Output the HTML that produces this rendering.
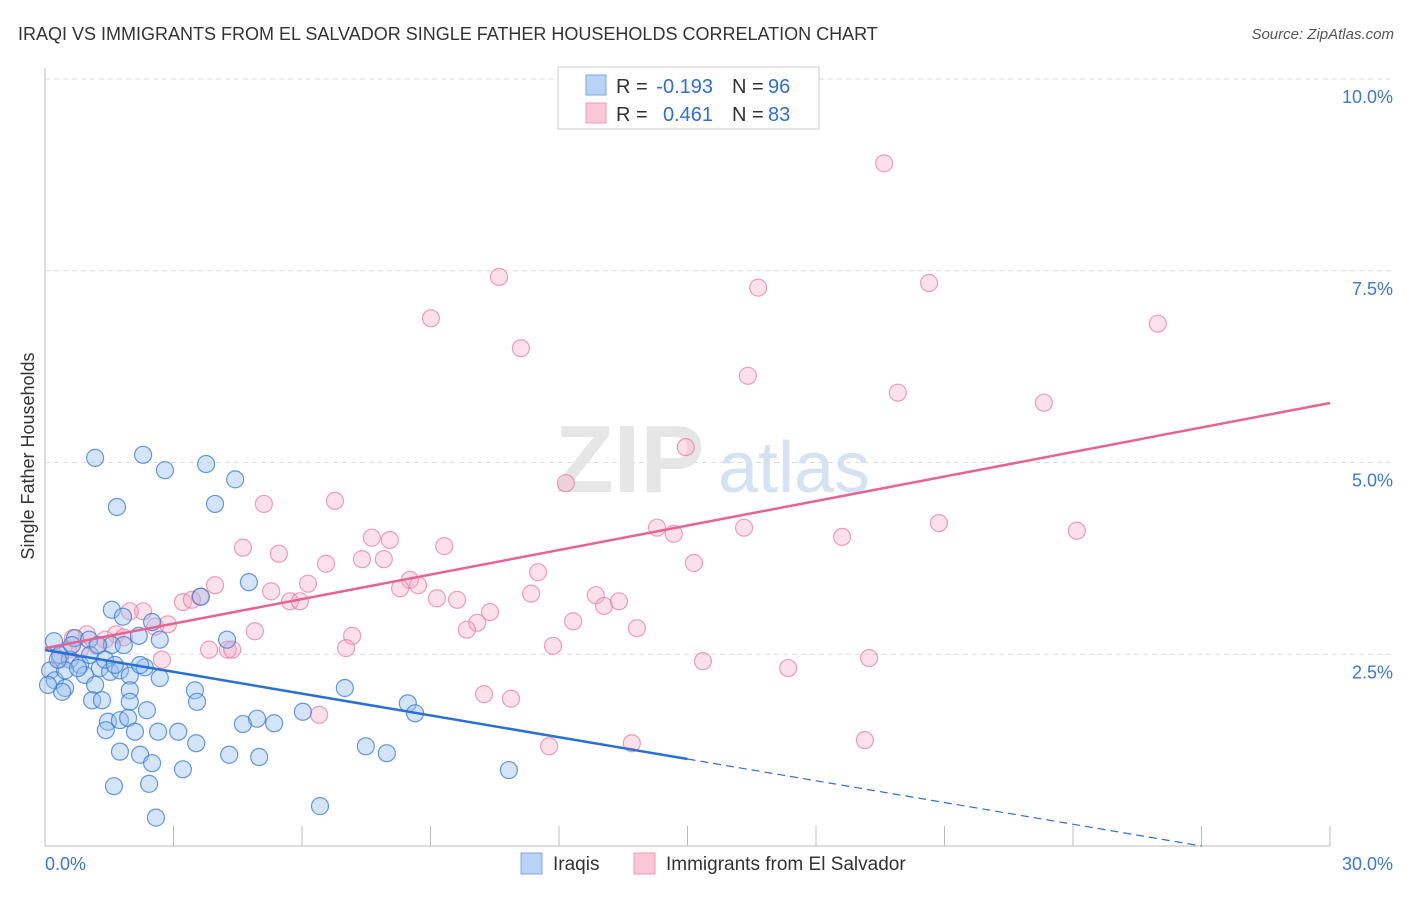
<!DOCTYPE html>
<html><head><meta charset="utf-8"><style>
body{margin:0;background:#fff;font-family:"Liberation Sans",sans-serif;}
svg text{font-family:"Liberation Sans",sans-serif;}
</style></head><body>
<svg id="chart" width="1406" height="892">
<text x="18" y="40" font-size="18" fill="#333">IRAQI VS IMMIGRANTS FROM EL SALVADOR SINGLE FATHER HOUSEHOLDS CORRELATION CHART</text>
<text x="1394" y="39" font-size="15" fill="#555" font-style="italic" text-anchor="end">Source: ZipAtlas.com</text>
<g id="grid"></g>
<text x="555" y="492" font-size="96" font-family="Liberation Serif" fill="#e6e6e6" font-weight="bold">ZIP</text>
<text x="718" y="492" font-size="72" fill="#d4e2f4">atlas</text>
<g id="marks"></g>
<text transform="translate(34,456) rotate(-90)" font-size="18" fill="#333" text-anchor="middle">Single Father Households</text>
<g>
<rect x="558" y="67" width="261" height="62" fill="#fff" stroke="#ccc"/>
<rect x="586" y="75" width="20" height="20" fill="#b8d3f5" stroke="#7aa7e6"/>
<rect x="586" y="103" width="20" height="20" fill="#f9c7d6" stroke="#ef99b3"/>
<text x="616" y="93" font-size="20" fill="#333">R =</text>
<text x="713" y="93" font-size="20" fill="#2d6fd6" text-anchor="end">-0.193</text>
<text x="732" y="93" font-size="20" fill="#333">N =</text>
<text x="768" y="93" font-size="20" fill="#2d6fd6">96</text>
<text x="616" y="121" font-size="20" fill="#333">R =</text>
<text x="713" y="121" font-size="20" fill="#2d6fd6" text-anchor="end">0.461</text>
<text x="732" y="121" font-size="20" fill="#333">N =</text>
<text x="768" y="121" font-size="20" fill="#2d6fd6">83</text>
</g>
<g>
<rect x="521" y="853" width="21" height="21" fill="#b8d3f5" stroke="#7aa7e6"/>
<text x="553" y="870" font-size="19" fill="#333">Iraqis</text>
<rect x="634" y="853" width="21" height="21" fill="#f9c7d6" stroke="#ef99b3"/>
<text x="666" y="870" font-size="19" fill="#333">Immigrants from El Salvador</text>
</g>
</svg>
<script>
const xTicks=[0,3,6,9,12,15,18,21,24,27,30];
const yTicks=[2.5,5,7.5,10];
const yTickLabels=["2.5%","5.0%","7.5%","10.0%"];
const bluePx=[[95,458],[143,455],[165,470],[206,464],[235,479],[117,507],[215,504],[249,582],[201,597],[112,610],[152,622],[139,636],[123,617],[54,641],[75,638],[89,640],[60,655],[70,660],[80,665],[90,655],[100,668],[110,672],[120,670],[130,676],[145,667],[160,678],[50,670],[55,680],[65,688],[62,692],[85,675],[95,685],[130,690],[195,690],[345,688],[227,640],[112,645],[124,645],[140,665],[92,700],[102,700],[130,702],[147,710],[197,702],[408,703],[415,713],[303,712],[108,722],[120,720],[128,718],[106,730],[135,732],[178,732],[158,732],[243,724],[257,719],[274,723],[196,743],[120,752],[140,755],[152,763],[183,769],[229,755],[259,757],[366,746],[387,753],[509,770],[114,786],[149,784],[320,806],[156,818],[65,670],[78,668],[48,685],[58,660],[72,645],[98,645],[105,660],[115,665],[160,640]];
const pinkPx=[[884,163],[499,277],[758,288],[929,283],[431,318],[521,348],[1158,324],[748,376],[898,393],[1044,403],[686,447],[566,483],[335,501],[264,504],[243,548],[279,554],[326,564],[362,559],[372,538],[390,540],[384,559],[444,546],[657,528],[674,534],[744,528],[842,537],[939,523],[1077,531],[694,563],[538,572],[410,580],[418,585],[400,588],[308,584],[271,591],[215,585],[200,597],[183,602],[192,600],[290,601],[300,601],[437,598],[457,600],[490,612],[531,594],[596,595],[604,606],[619,601],[573,621],[477,623],[467,630],[143,611],[130,611],[155,627],[168,624],[255,631],[352,636],[116,634],[124,637],[105,640],[87,634],[73,638],[97,646],[68,650],[209,650],[228,650],[232,650],[346,648],[553,646],[637,628],[703,661],[788,668],[869,658],[162,660],[484,694],[511,699],[319,715],[549,746],[632,743],[865,740],[60,660],[80,650]];
const blueX=bluePx.map(p=>+((p[0]-45)/1285*30).toFixed(2));
const blueY=bluePx.map(p=>+((846-p[1])/767*10).toFixed(2));
const pinkX=pinkPx.map(p=>+((p[0]-45)/1285*30).toFixed(2));
const pinkY=pinkPx.map(p=>+((846-p[1])/767*10).toFixed(2));
const blueTrend=[[0,2.555],[15,1.134],[27,0]];
const pinkTrend=[[0,2.58],[30,5.776]];
const X=v=>45+v/30*1285, Y=v=>846-v/10*767;
const NS="http://www.w3.org/2000/svg";
function mk(t,a,p){const e=document.createElementNS(NS,t);for(const k in a)e.setAttribute(k,a[k]);p.appendChild(e);return e;}
const g=document.getElementById('grid'),m=document.getElementById('marks');
const ax=mk('line',{x1:45,y1:68,x2:45,y2:846,stroke:'#bbb'},g);


const bx=mk('line',{x1:45,y1:846,x2:1330,y2:846,stroke:'#bbb'},g);


yTicks.forEach((v,i)=>{
 const l=mk('line',{x1:45,x2:1395,y1:Y(v),y2:Y(v),stroke:'#ddd','stroke-dasharray':'5,4'},g);
 
 
 const t=mk('text',{x:1393,y:Y(v)+24,'font-size':18,fill:'#3a78d4','text-anchor':'end'},g);
 t.textContent=yTickLabels[i];
 
 
});
xTicks.forEach(v=>{
 const l=mk('line',{x1:X(v),x2:X(v),y1:826,y2:846,stroke:'#bbb'},g);
 
 
});
[[0,'0.0%','start',45],[30,'30.0%','end',1393]].forEach(a=>{
 const t=mk('text',{x:a[3],y:870,'font-size':18,fill:'#3a78d4','text-anchor':a[2]},g);
 t.textContent=a[1];
 
 
});
function pts(xs,ys,fill,stroke,name){xs.forEach((x,i)=>{
 const c=mk('circle',{cx:X(x),cy:Y(ys[i]),r:8.5,fill:fill,stroke:stroke,'stroke-width':1.2},m);
 
 
});}
pts(pinkX,pinkY,'rgba(246,170,195,0.35)','rgba(232,120,155,0.7)','el-salvador-point');
pts(blueX,blueY,'rgba(150,190,240,0.4)','rgba(50,120,215,0.75)','iraqi-point');
const b1=mk('line',{x1:X(blueTrend[0][0]),y1:Y(blueTrend[0][1]),x2:X(blueTrend[1][0]),y2:Y(blueTrend[1][1]),stroke:'#2a6fd8','stroke-width':2.5},m);


const b2=mk('line',{x1:X(blueTrend[1][0]),y1:Y(blueTrend[1][1]),x2:X(blueTrend[2][0]),y2:Y(blueTrend[2][1]),stroke:'#2a6fd8','stroke-width':1.2,'stroke-dasharray':'8,5'},m);


const p1=mk('line',{x1:X(pinkTrend[0][0]),y1:Y(pinkTrend[0][1]),x2:X(pinkTrend[1][0]),y2:Y(pinkTrend[1][1]),stroke:'#e8648e','stroke-width':2.5},m);


</script>
</body></html>
